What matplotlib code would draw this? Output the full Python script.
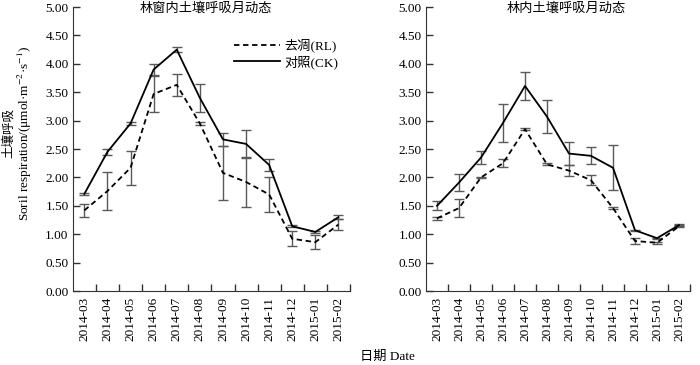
import numpy as np
import matplotlib
matplotlib.use('Agg')
import matplotlib.pyplot as plt
from matplotlib.lines import Line2D

plt.rcParams['font.family'] = ['Liberation Serif', 'Noto Sans CJK SC']
plt.rcParams['mathtext.fontset'] = 'stix'

months = ['2014-03', '2014-04', '2014-05', '2014-06', '2014-07', '2014-08',
          '2014-09', '2014-10', '2014-11', '2014-12', '2015-01', '2015-02']

# 林窗内 (left panel)
gap_ck = [1.71, 2.45, 2.95, 3.90, 4.25, 3.40, 2.67, 2.59, 2.22, 1.14, 1.04, 1.30]
gap_ck_err = [0.02, 0.05, 0.02, 0.10, 0.05, 0.25, 0.12, 0.25, 0.10, 0.02, 0.02, 0.04]
gap_rl = [1.42, 1.76, 2.17, 3.47, 3.63, 2.95, 2.08, 1.92, 1.70, 0.92, 0.86, 1.17]
gap_rl_err = [0.12, 0.34, 0.30, 0.31, 0.19, 0.02, 0.48, 0.44, 0.31, 0.13, 0.12, 0.10]

# 林内 (right panel)
for_ck = [1.50, 1.91, 2.35, 2.96, 3.61, 3.07, 2.42, 2.38, 2.17, 1.07, 0.93, 1.16]
for_ck_err = [0.08, 0.15, 0.12, 0.33, 0.24, 0.29, 0.20, 0.15, 0.40, 0.01, 0.01, 0.02]
for_rl = [1.28, 1.46, 2.00, 2.25, 2.85, 2.23, 2.12, 1.95, 1.46, 0.88, 0.85, 1.14]
for_rl_err = [0.03, 0.16, 0.01, 0.07, 0.02, 0.02, 0.10, 0.09, 0.02, 0.05, 0.02, 0.02]

titles = ['林窗内土壤呼吸月动态', '林内土壤呼吸月动态']
yticks = np.arange(0, 5.01, 0.5)

fig = plt.figure(figsize=(7, 3.65), dpi=100)
ax1 = fig.add_axes([0.104, 0.2027, 0.396, 0.778])
ax2 = fig.add_axes([0.6086, 0.2027, 0.3771, 0.778])

x = np.arange(len(months)) + 0.5
err_kw = dict(ecolor='#5a5a5a', elinewidth=1.0, capsize=3.5, capthick=1.0)

for ax, ck, ckerr, rl, rlerr, title, tx in [
        (ax1, gap_ck, gap_ck_err, gap_rl, gap_rl_err, titles[0], 0.48),
        (ax2, for_ck, for_ck_err, for_rl, for_rl_err, titles[1], 0.53)]:
    ax.errorbar(x, rl, yerr=rlerr, color='black', lw=1.3,
                linestyle=(0, (3, 2)), **err_kw)
    ax.errorbar(x, ck, yerr=ckerr, color='black', lw=1.3,
                linestyle='-', **err_kw)
    ax.set_xlim(0, 12)
    ax.set_ylim(0, 5)
    ax.set_yticks(yticks)
    ax.set_yticklabels(['%.2f' % v for v in yticks], fontsize=9.5)
    ax.set_xticks(np.arange(1, 13))
    ax.set_xticklabels([])
    ax.set_xticks(x, minor=True)
    ax.set_xticklabels(months, minor=True, rotation=90, fontsize=9.5)
    ax.tick_params(axis='both', which='major', direction='in', length=5,
                   width=1, color='#333333')
    ax.tick_params(axis='x', which='minor', length=0, pad=4)
    ax.tick_params(axis='y', pad=3)
    for s in ['top', 'right']:
        ax.spines[s].set_visible(False)
    for s in ['left', 'bottom']:
        ax.spines[s].set_color('#333333')
    ax.text(tx, 0.995, title, transform=ax.transAxes, ha='center',
            va='center', fontsize=9.5)

handles = [Line2D([], [], color='black', lw=1.3, linestyle=(0, (3, 2))),
           Line2D([], [], color='black', lw=1.3)]
ax1.legend(handles, ['去凋(RL)', '对照(CK)'], loc='upper right',
           bbox_to_anchor=(1.0, 0.93), frameon=False, fontsize=9.5,
           handlelength=3.5, handletextpad=0.3, labelspacing=0.2)

fig.text(0.013, 0.636, '土壤呼吸', rotation=90, ha='center', va='center',
         fontsize=9)
fig.text(0.036, 0.636, r'Soril respiration/(μmol·m$^{-2}$·s$^{-1}$)',
         rotation=90, ha='center', va='center', fontsize=9.5)
fig.text(0.553, 0.022, '日期 Date', ha='center', va='center', fontsize=9.5)

fig.savefig('out.png', dpi=100)
